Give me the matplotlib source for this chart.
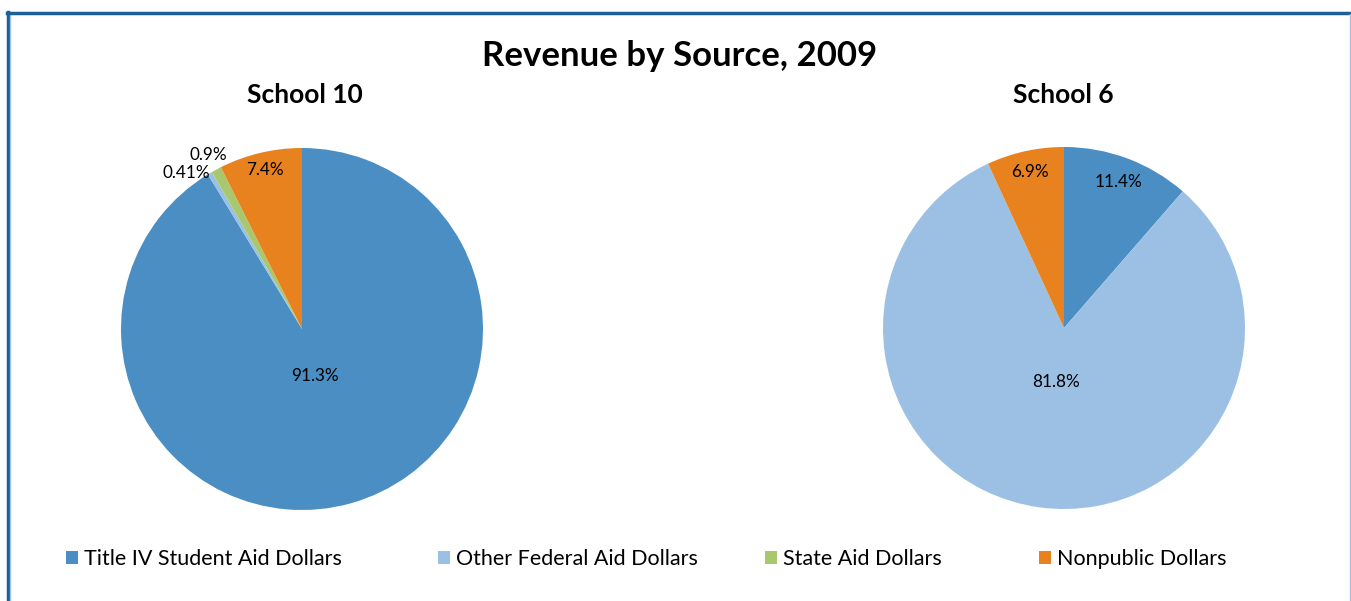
import numpy as np
import matplotlib.pyplot as plt
from matplotlib.lines import Line2D

plt.rcParams['font.family'] = ['Lato', 'DejaVu Sans']

# data
sources = ['Title IV Student Aid Dollars', 'Other Federal Aid Dollars',
           'State Aid Dollars', 'Nonpublic Dollars']
school10 = [91.3, 0.41, 0.9, 7.4]
school6 = [11.4, 81.8, 0.0, 6.9]
school10_labels = ['91.3%', '0.41%', '0.9%', '7.4%']
school6_labels = ['11.4%', '81.8%', '', '6.9%']

colors = ['#4a8ec4', '#9bc0e4', '#a9c86e', '#e8821e']

W, H = 1351, 601
fig = plt.figure(figsize=(W / 100, H / 100), dpi=100)
R = 181  # pie radius in px


def pie_axes(cx, cy):
    half = 1.25 * R
    ax = fig.add_axes([(cx - half) / W, (H - cy - half) / H, 2 * half / W, 2 * half / H])
    ax.set_xlim(-1.25, 1.25)
    ax.set_ylim(-1.25, 1.25)
    ax.set_aspect('equal')
    ax.axis('off')
    return ax


def draw(ax, vals, labels, lab_r, lab_ha):
    wedges, _ = ax.pie(vals, colors=colors, startangle=90, counterclock=False,
                       radius=1.0, wedgeprops=dict(linewidth=0))
    total = sum(vals)
    cum = 0
    for v, lab, r, ha in zip(vals, labels, lab_r, lab_ha):
        mid = cum + v / 2
        cum += v
        if not lab:
            continue
        ang = np.deg2rad(90 - 360 * mid / total)
        ax.text(r * np.cos(ang), r * np.sin(ang), lab, ha=ha, va='center',
                fontsize=12.3, color='black')
    return wedges


ax1 = pie_axes(302, 329)
wedges = draw(ax1, school10, school10_labels,
              [0.27, 1.0, 1.09, 0.9], ['center', 'right', 'center', 'center'])
ax2 = pie_axes(1064, 328)
draw(ax2, school6, school6_labels,
     [0.86, 0.3, 0.9, 0.88], ['center'] * 4)

fig.text(680 / W, 1 - 56 / H, 'Revenue by Source, 2009', ha='center', va='center',
         fontsize=25, fontweight='bold')
fig.text(305 / W, 1 - 95 / H, 'School 10', ha='center', va='center',
         fontsize=19, fontweight='bold')
fig.text(1063 / W, 1 - 95 / H, 'School 6', ha='center', va='center',
         fontsize=19, fontweight='bold')

# legend, one entry at a time to match spacing
leg_x = [66, 438, 765, 1039]
for w, name, x in zip(wedges, sources, leg_x):
    fig.legend([w], [name], loc='center left', bbox_to_anchor=(x / W, 1 - 559 / H),
               frameon=False, fontsize=15.5, handlelength=0.55, handleheight=0.55,
               handletextpad=0.3, borderpad=0, borderaxespad=0)

# frame around the chart
fig.add_artist(Line2D([8 / W, 8 / W], [0, 1 - 12 / H], color='#1f5f99', lw=2.5))
fig.add_artist(Line2D([10 / W, 10 / W], [0, 1 - 14 / H], color='#9cc3e0', lw=1))
fig.add_artist(Line2D([7 / W, 1], [1 - 12.5 / H, 1 - 12.5 / H], color='#1f5f99', lw=2.5))
fig.add_artist(Line2D([1349.5 / W, 1349.5 / W], [0, 1 - 14 / H], color='#9cc3e0', lw=1))

fig.savefig('out.png', dpi=100)
